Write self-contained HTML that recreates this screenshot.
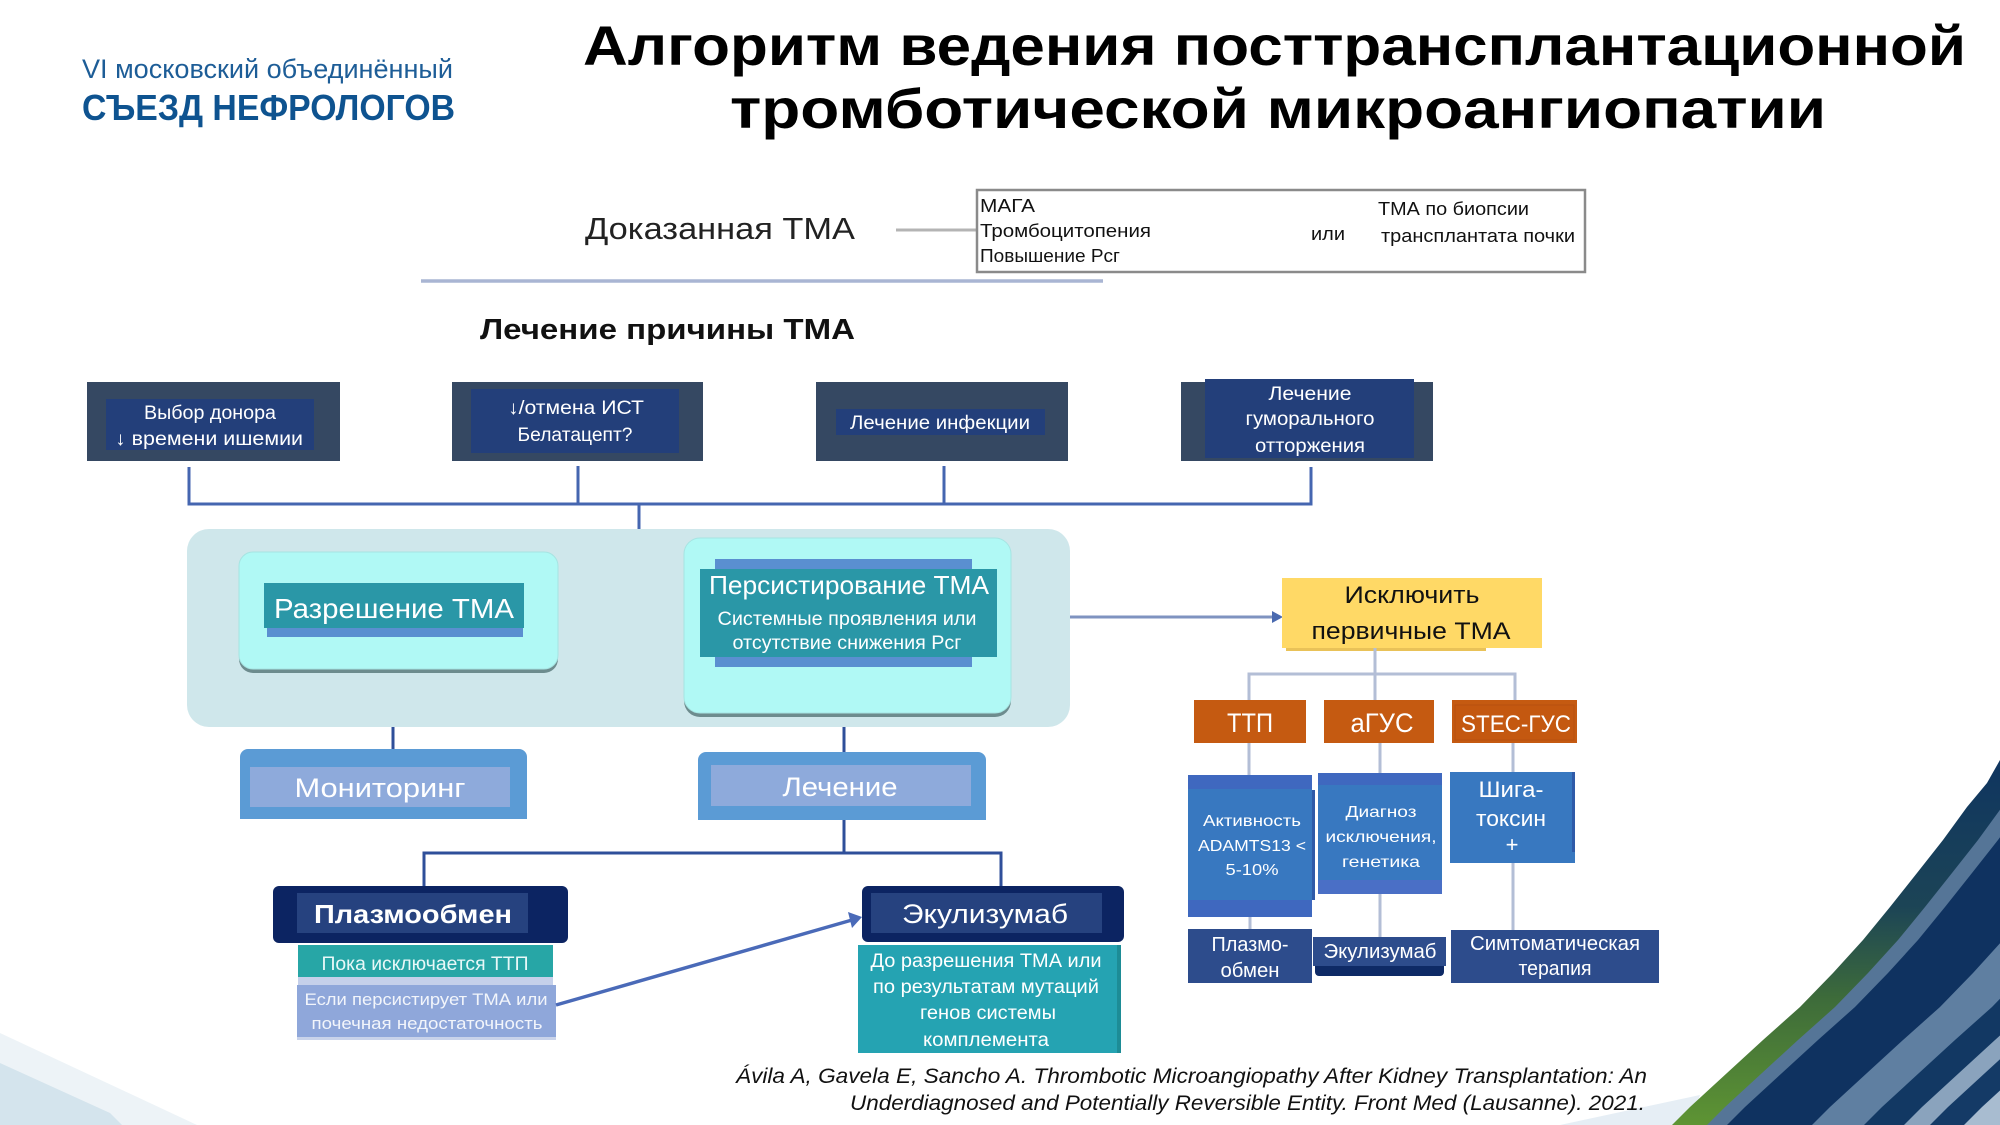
<!DOCTYPE html>
<html><head><meta charset="utf-8"><style>
html,body{margin:0;padding:0;background:#fff;}
svg{display:block;}
text{font-family:"Liberation Sans","DejaVu Sans",sans-serif;}
</style></head><body>
<svg width="2000" height="1125" viewBox="0 0 2000 1125" xmlns="http://www.w3.org/2000/svg">
<defs>
<linearGradient id="gg" x1="0" y1="760" x2="0" y2="1125" gradientUnits="userSpaceOnUse">
<stop offset="0" stop-color="#0f3560"/><stop offset="0.4" stop-color="#1c4456"/><stop offset="0.65" stop-color="#3d6b3a"/><stop offset="1" stop-color="#5e9433"/>
</linearGradient>
<path id="cv" d="M2060,700 L2000,760 L1987,783 L1967,807 L1943,840 L1917,873 L1890,907 L1863,940 L1833,973 L1800,1007 L1763,1040 L1727,1073 L1690,1107 L1672,1125 L2400,1125 L2400,700 Z"/>
</defs>

<!-- bottom-left decoration -->
<polygon points="0,1033 197,1125 0,1125" fill="#edf3f7"/>
<polygon points="0,1063 110,1113 122,1125 0,1125" fill="#d4e4ed"/>
<polygon points="1560,1125 1690,1125 1700,1095" fill="#e6eef5"/>

<!-- bottom-right decoration -->
<use href="#cv" fill="url(#gg)"/>
<use href="#cv" fill="#557597" transform="translate(35,0)"/>
<use href="#cv" fill="#0f3260" transform="translate(55,0)"/>
<use href="#cv" fill="#5f7fa1" transform="translate(140,0)"/>
<use href="#cv" fill="#123863" transform="translate(192,0)"/>
<use href="#cv" fill="#8aa3bd" transform="translate(232,0)"/>
<use href="#cv" fill="#143a66" transform="translate(258,0)"/>
<use href="#cv" fill="#a8bcd0" transform="translate(292,0)"/>

<!-- logo -->
<text x="82" y="78" font-size="27" fill="#1d5d97" textLength="371" lengthAdjust="spacingAndGlyphs">VI московский объединённый</text>
<text x="82" y="120" font-size="36" font-weight="bold" fill="#0e5390" textLength="373" lengthAdjust="spacingAndGlyphs">СЪЕЗД НЕФРОЛОГОВ</text>

<!-- title -->
<text x="583" y="65" font-size="56" font-weight="bold" fill="#000" textLength="1383" lengthAdjust="spacingAndGlyphs">Алгоритм ведения посттрансплантационной</text>
<text x="730" y="128" font-size="56" font-weight="bold" fill="#000" textLength="1096" lengthAdjust="spacingAndGlyphs">тромботической микроангиопатии</text>

<!-- proven TMA -->
<text x="585" y="239" font-size="31" fill="#222" textLength="270" lengthAdjust="spacingAndGlyphs">Доказанная ТМА</text>
<line x1="896" y1="230" x2="976" y2="230" stroke="#b4b4b4" stroke-width="3"/>
<rect x="977" y="190" width="608" height="82" fill="#fff" stroke="#8a8a8a" stroke-width="2.5"/>
<text x="980" y="212" font-size="18" fill="#111" textLength="55" lengthAdjust="spacingAndGlyphs">МАГА</text>
<text x="980" y="237" font-size="18" fill="#111" textLength="171" lengthAdjust="spacingAndGlyphs">Тромбоцитопения</text>
<text x="980" y="262" font-size="18" fill="#111" textLength="140" lengthAdjust="spacingAndGlyphs">Повышение Рсг</text>
<text x="1311" y="240" font-size="18" fill="#111" textLength="34" lengthAdjust="spacingAndGlyphs">или</text>
<text x="1378" y="215" font-size="18" fill="#111" textLength="151" lengthAdjust="spacingAndGlyphs">ТМА по биопсии</text>
<text x="1381" y="242" font-size="18" fill="#111" textLength="194" lengthAdjust="spacingAndGlyphs">трансплантата почки</text>
<line x1="421" y1="281" x2="1103" y2="281" stroke="#a9b5d3" stroke-width="3.5"/>

<text x="480" y="339" font-size="29" font-weight="bold" fill="#111" textLength="375" lengthAdjust="spacingAndGlyphs">Лечение причины ТМА</text>

<!-- top boxes -->
<rect x="87" y="382" width="253" height="79" fill="#354862"/>
<rect x="106" y="399" width="208" height="51" fill="#233f7a"/>
<text x="210" y="419" font-size="19" fill="#fff" text-anchor="middle" textLength="132" lengthAdjust="spacingAndGlyphs">Выбор донора</text>
<text x="209" y="445" font-size="19" fill="#fff" text-anchor="middle" textLength="188" lengthAdjust="spacingAndGlyphs">↓ времени ишемии</text>

<rect x="452" y="382" width="251" height="79" fill="#354862"/>
<rect x="471" y="389" width="208" height="64" fill="#233f7a"/>
<text x="576" y="414" font-size="19" fill="#fff" text-anchor="middle" textLength="136" lengthAdjust="spacingAndGlyphs">↓/отмена ИСТ</text>
<text x="575" y="441" font-size="19" fill="#fff" text-anchor="middle" textLength="115" lengthAdjust="spacingAndGlyphs">Белатацепт?</text>

<rect x="816" y="382" width="252" height="79" fill="#354862"/>
<rect x="836" y="409" width="209" height="26" fill="#233f7a"/>
<text x="940" y="429" font-size="19" fill="#fff" text-anchor="middle" textLength="180" lengthAdjust="spacingAndGlyphs">Лечение инфекции</text>

<rect x="1181" y="382" width="252" height="79" fill="#354862"/>
<rect x="1205" y="379" width="209" height="79" fill="#233f7a"/>
<text x="1310" y="400" font-size="19" fill="#fff" text-anchor="middle" textLength="83" lengthAdjust="spacingAndGlyphs">Лечение</text>
<text x="1310" y="425" font-size="19" fill="#fff" text-anchor="middle" textLength="129" lengthAdjust="spacingAndGlyphs">гуморального</text>
<text x="1310" y="452" font-size="19" fill="#fff" text-anchor="middle" textLength="110" lengthAdjust="spacingAndGlyphs">отторжения</text>

<!-- top connectors -->
<g stroke="#4566b0" stroke-width="3" fill="none">
<polyline points="189,467 189,504 1311,504 1311,467"/>
<line x1="578" y1="466" x2="578" y2="504"/>
<line x1="944" y1="466" x2="944" y2="504"/>
<line x1="639" y1="504" x2="639" y2="531"/>
</g>

<!-- big panel -->
<rect x="187" y="529" width="883" height="198" rx="22" fill="#cfe7eb"/>
<!-- resolution -->
<rect x="239" y="555" width="319" height="118" rx="14" fill="#6d8c8e"/>
<rect x="239" y="552" width="319" height="117" rx="14" fill="#b0f9f5" stroke="#a6e4e2" stroke-width="1"/>
<rect x="267" y="590" width="256" height="47" fill="#5a8fd0"/>
<rect x="264" y="583" width="260" height="45" fill="#2a97a7"/>
<text x="394" y="618" font-size="28" fill="#fff" text-anchor="middle" textLength="240" lengthAdjust="spacingAndGlyphs">Разрешение ТМА</text>
<!-- persist -->
<rect x="684" y="541" width="327" height="176" rx="16" fill="#6d8c8e"/>
<rect x="684" y="538" width="327" height="175" rx="16" fill="#b0f9f5" stroke="#a6e4e2" stroke-width="1"/>
<rect x="715" y="559" width="257" height="108" fill="#5a8fd0"/>
<rect x="700" y="569" width="297" height="88" fill="#2a97a7"/>
<text x="849" y="594" font-size="26" fill="#fff" text-anchor="middle" textLength="280" lengthAdjust="spacingAndGlyphs">Персистирование ТМА</text>
<text x="847" y="625" font-size="19" fill="#fff" text-anchor="middle" textLength="259" lengthAdjust="spacingAndGlyphs">Системные проявления или</text>
<text x="847" y="649" font-size="19" fill="#fff" text-anchor="middle" textLength="229" lengthAdjust="spacingAndGlyphs">отсутствие снижения Рсг</text>

<!-- arrow to yellow -->
<line x1="1070" y1="617" x2="1274" y2="617" stroke="#7f93c0" stroke-width="3"/>
<path d="M1272,611 L1283,617 L1272,623 Z" fill="#4a6ab0"/>

<!-- monitoring / treatment -->
<g stroke="#2f4f9a" stroke-width="3" fill="none">
<line x1="393" y1="727" x2="393" y2="750"/>
<line x1="844" y1="727" x2="844" y2="753"/>
<polyline points="424,886 424,853 1001,853 1001,886"/>
<line x1="844" y1="820" x2="844" y2="853"/>
</g>
<path d="M240,757 a8,8 0 0 1 8,-8 L519,749 a8,8 0 0 1 8,8 L527,819 L240,819 Z" fill="#5b9bd5"/>
<rect x="250" y="767" width="260" height="40" fill="#8eaadb"/>
<text x="380" y="797" font-size="27" fill="#fff" text-anchor="middle" textLength="171" lengthAdjust="spacingAndGlyphs">Мониторинг</text>
<path d="M698,760 a8,8 0 0 1 8,-8 L978,752 a8,8 0 0 1 8,8 L986,820 L698,820 Z" fill="#5b9bd5"/>
<rect x="711" y="765" width="260" height="41" fill="#8eaadb"/>
<text x="840" y="796" font-size="27" fill="#fff" text-anchor="middle" textLength="115" lengthAdjust="spacingAndGlyphs">Лечение</text>

<!-- plasmapheresis -->
<rect x="273" y="886" width="295" height="57" rx="6" fill="#0c2462"/>
<rect x="297" y="893" width="231" height="40" fill="#26427f"/>
<text x="413" y="923" font-size="26" font-weight="bold" fill="#fff" text-anchor="middle" textLength="198" lengthAdjust="spacingAndGlyphs">Плазмообмен</text>
<rect x="298" y="945" width="255" height="32" fill="#27a6a6"/>
<text x="425" y="970" font-size="19" fill="#e8f8f8" text-anchor="middle" textLength="207" lengthAdjust="spacingAndGlyphs">Пока исключается ТТП</text>
<rect x="298" y="977" width="255" height="9" fill="#c5d0ea"/>
<rect x="297" y="985" width="259" height="52" fill="#8fa7da"/>
<rect x="297" y="1037" width="259" height="3" fill="#c9d3ea"/>
<text x="426" y="1005" font-size="17" fill="#f2f5fb" text-anchor="middle" textLength="243" lengthAdjust="spacingAndGlyphs">Если персистирует ТМА или</text>
<text x="427" y="1029" font-size="17" fill="#f2f5fb" text-anchor="middle" textLength="231" lengthAdjust="spacingAndGlyphs">почечная недостаточность</text>

<line x1="556" y1="1005" x2="852" y2="920" stroke="#4a6ab8" stroke-width="3.5"/>
<path d="M848,912 L862,917 L852,928 Z" fill="#4a6ab8"/>

<!-- eculizumab -->
<rect x="862" y="886" width="262" height="56" rx="6" fill="#0c2462"/>
<rect x="871" y="893" width="231" height="40" fill="#26427f"/>
<text x="985" y="923" font-size="27" fill="#fff" text-anchor="middle" textLength="166" lengthAdjust="spacingAndGlyphs">Экулизумаб</text>
<rect x="858" y="945" width="263" height="108" fill="#25a3b2"/>
<rect x="1117" y="945" width="4" height="108" fill="#1d8c96"/>
<text x="986" y="967" font-size="19" fill="#fff" text-anchor="middle" textLength="231" lengthAdjust="spacingAndGlyphs">До разрешения ТМА или</text>
<text x="986" y="993" font-size="19" fill="#fff" text-anchor="middle" textLength="226" lengthAdjust="spacingAndGlyphs">по результатам мутаций</text>
<text x="988" y="1019" font-size="19" fill="#fff" text-anchor="middle" textLength="136" lengthAdjust="spacingAndGlyphs">генов системы</text>
<text x="986" y="1046" font-size="19" fill="#fff" text-anchor="middle" textLength="126" lengthAdjust="spacingAndGlyphs">комплемента</text>

<!-- right: exclude primary TMA -->
<rect x="1286" y="646" width="200" height="5" fill="#e9c258"/>
<rect x="1282" y="578" width="260" height="70" fill="#ffd966"/>
<text x="1412" y="603" font-size="24" fill="#111" text-anchor="middle" textLength="135" lengthAdjust="spacingAndGlyphs">Исключить</text>
<text x="1411" y="639" font-size="24" fill="#111" text-anchor="middle" textLength="199" lengthAdjust="spacingAndGlyphs">первичные ТМА</text>

<g stroke="#b3bed6" stroke-width="3" fill="none">
<line x1="1375" y1="648" x2="1375" y2="700"/>
<polyline points="1249,700 1249,674 1515,674 1515,700"/>
<line x1="1249" y1="743" x2="1249" y2="775"/>
<line x1="1380" y1="743" x2="1380" y2="773"/>
<line x1="1513" y1="743" x2="1513" y2="772"/>
<line x1="1250" y1="917" x2="1250" y2="930"/>
<line x1="1380" y1="894" x2="1380" y2="938"/>
<line x1="1513" y1="863" x2="1513" y2="930"/>
</g>

<rect x="1194" y="700" width="112" height="43" fill="#c55a11"/>
<text x="1250" y="732" font-size="27" fill="#fff" text-anchor="middle" textLength="46" lengthAdjust="spacingAndGlyphs">ТТП</text>
<rect x="1324" y="700" width="110" height="43" fill="#c55a11"/>
<text x="1382" y="732" font-size="27" fill="#fff" text-anchor="middle" textLength="63" lengthAdjust="spacingAndGlyphs">аГУС</text>
<rect x="1452" y="700" width="125" height="43" fill="#c55a11"/>
<rect x="1455" y="705" width="119" height="35" fill="#c45810" stroke="#b85010" stroke-width="1"/>
<text x="1516" y="732" font-size="24" fill="#fff" text-anchor="middle" textLength="110" lengthAdjust="spacingAndGlyphs">STEC-ГУС</text>

<!-- blue detail boxes -->
<rect x="1188" y="775" width="124" height="142" fill="#3878c0"/>
<rect x="1188" y="775" width="124" height="14" fill="#3f68bf"/>
<rect x="1188" y="900" width="124" height="17" fill="#3f68bf"/>
<rect x="1312" y="790" width="3" height="110" fill="#2f5aa8"/>
<text x="1252" y="826" font-size="16" fill="#fff" text-anchor="middle" textLength="98" lengthAdjust="spacingAndGlyphs">Активность</text>
<text x="1252" y="851" font-size="16" fill="#fff" text-anchor="middle" textLength="108" lengthAdjust="spacingAndGlyphs">ADAMTS13 &lt;</text>
<text x="1252" y="875" font-size="16" fill="#fff" text-anchor="middle" textLength="53" lengthAdjust="spacingAndGlyphs">5-10%</text>

<rect x="1318" y="773" width="124" height="121" fill="#3878c0"/>
<rect x="1318" y="773" width="124" height="12" fill="#3f68bf"/>
<rect x="1318" y="880" width="124" height="14" fill="#4a6fc6"/>
<text x="1381" y="817" font-size="16" fill="#fff" text-anchor="middle" textLength="71" lengthAdjust="spacingAndGlyphs">Диагноз</text>
<text x="1381" y="842" font-size="16" fill="#fff" text-anchor="middle" textLength="111" lengthAdjust="spacingAndGlyphs">исключения,</text>
<text x="1381" y="867" font-size="16" fill="#fff" text-anchor="middle" textLength="78" lengthAdjust="spacingAndGlyphs">генетика</text>

<rect x="1450" y="772" width="125" height="91" fill="#3878c0"/>
<rect x="1572" y="772" width="3" height="80" fill="#2f5aa8"/>
<text x="1511" y="797" font-size="22" fill="#fff" text-anchor="middle" textLength="65" lengthAdjust="spacingAndGlyphs">Шига-</text>
<text x="1511" y="826" font-size="22" fill="#fff" text-anchor="middle" textLength="70" lengthAdjust="spacingAndGlyphs">токсин</text>
<text x="1512" y="852" font-size="22" fill="#fff" text-anchor="middle">+</text>

<rect x="1188" y="929" width="124" height="54" fill="#2d4c8c"/>
<text x="1250" y="951" font-size="20" fill="#fff" text-anchor="middle" textLength="77" lengthAdjust="spacingAndGlyphs">Плазмо-</text>
<text x="1250" y="977" font-size="20" fill="#fff" text-anchor="middle" textLength="59" lengthAdjust="spacingAndGlyphs">обмен</text>

<rect x="1315" y="950" width="129" height="26" rx="4" fill="#0e2a66"/>
<rect x="1313" y="937" width="133" height="29" fill="#2d4c8c"/>
<text x="1380" y="958" font-size="20" fill="#fff" text-anchor="middle" textLength="113" lengthAdjust="spacingAndGlyphs">Экулизумаб</text>

<rect x="1451" y="930" width="208" height="53" fill="#2d4c8c"/>
<text x="1555" y="950" font-size="20" fill="#fff" text-anchor="middle" textLength="170" lengthAdjust="spacingAndGlyphs">Симтоматическая</text>
<text x="1555" y="975" font-size="20" fill="#fff" text-anchor="middle" textLength="73" lengthAdjust="spacingAndGlyphs">терапия</text>

<!-- citation -->
<text x="736" y="1083" font-size="21" font-style="italic" fill="#111" textLength="911" lengthAdjust="spacingAndGlyphs">Ávila A, Gavela E, Sancho A. Thrombotic Microangiopathy After Kidney Transplantation: An</text>
<text x="850" y="1110" font-size="21" font-style="italic" fill="#111" textLength="795" lengthAdjust="spacingAndGlyphs">Underdiagnosed and Potentially Reversible Entity. Front Med (Lausanne). 2021.</text>
</svg>
</body></html>
